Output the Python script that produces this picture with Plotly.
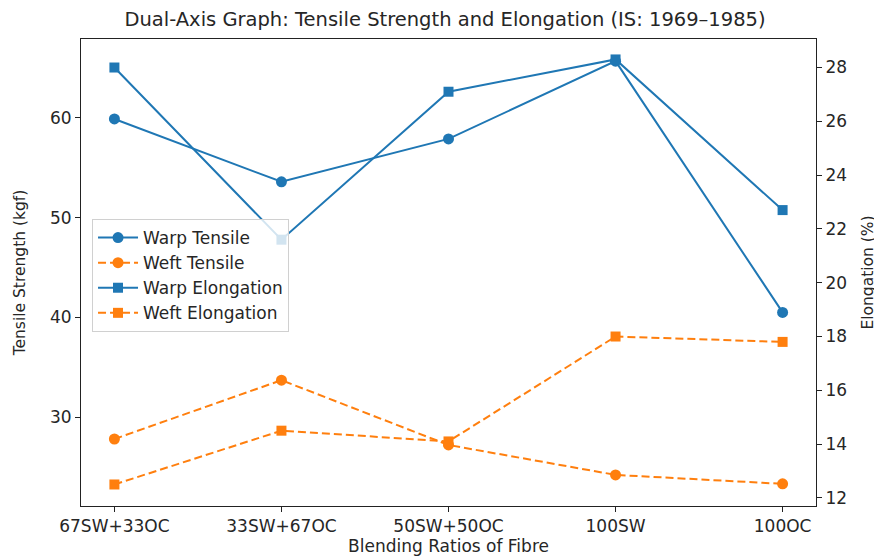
import plotly.graph_objects as go

categories = ["67SW+33OC", "33SW+67OC", "50SW+50OC", "100SW", "100OC"]
warp_tensile = [59.9, 53.6, 57.9, 65.7, 40.5]
weft_tensile = [27.8, 33.7, 27.2, 24.2, 23.3]
warp_elong = [28.0, 21.6, 27.1, 28.3, 22.7]
weft_elong = [12.5, 14.5, 14.1, 18.0, 17.8]

left_ticks = [30, 40, 50, 60]
right_ticks = [12, 14, 16, 18, 20, 22, 24, 26, 28]

BLUE = "#1f77b4"
ORANGE = "#ff7f0e"
FONT = "DejaVu Sans"
TXT = "#262626"

fig = go.Figure()
fig.add_trace(go.Scatter(x=categories, y=warp_tensile, name="Warp Tensile", mode="lines+markers",
                         line=dict(color=BLUE, width=2), marker=dict(symbol="circle", size=11, color=BLUE)))
fig.add_trace(go.Scatter(x=categories, y=weft_tensile, name="Weft Tensile", mode="lines+markers",
                         line=dict(color=ORANGE, width=2, dash="8px,4px"), marker=dict(symbol="circle", size=11, color=ORANGE)))
fig.add_trace(go.Scatter(x=categories, y=warp_elong, name="Warp Elongation", mode="lines+markers", yaxis="y2",
                         line=dict(color=BLUE, width=2), marker=dict(symbol="square", size=10, color=BLUE)))
fig.add_trace(go.Scatter(x=categories, y=weft_elong, name="Weft Elongation", mode="lines+markers", yaxis="y2",
                         line=dict(color=ORANGE, width=2, dash="8px,4px"), marker=dict(symbol="square", size=10, color=ORANGE)))

axis_common = dict(showgrid=False, zeroline=False, showline=True, linecolor="#222", linewidth=1,
                   ticks="outside", ticklen=5, tickcolor="#222", automargin=False,
                   tickfont=dict(family=FONT, size=17, color=TXT))

fig.update_layout(
    width=874, height=551,
    paper_bgcolor="white", plot_bgcolor="white",
    margin=dict(l=73, r=66, t=31, b=53),
    font=dict(family=FONT, color=TXT),
    title=dict(text="Dual-Axis Graph: Tensile Strength and Elongation (IS: 1969–1985)",
               x=0.5, xanchor="center", y=0.98, yanchor="middle",
               font=dict(family=FONT, size=19.5, color=TXT)),
    xaxis=dict(**axis_common, mirror=True, range=[-0.2, 4.2],
               title=dict(text="Blending Ratios of Fibre", font=dict(family=FONT, size=17, color=TXT), standoff=2)),
    yaxis=dict(**axis_common, range=[21.08, 67.92], tickvals=left_ticks,
               title=dict(text="Tensile Strength (kgf)", font=dict(family=FONT, size=15.5, color=TXT), standoff=20)),
    yaxis2=dict(**axis_common, overlaying="y", side="right", range=[11.70, 29.06], tickvals=right_ticks,
                title=dict(text="Elongation (%)", font=dict(family=FONT, size=15.5, color=TXT), standoff=16)),
    legend=dict(x=0.015, y=0.6146, xanchor="left", yanchor="top",
                bgcolor="rgba(255,255,255,0.8)", bordercolor="#d0d0d0", borderwidth=1,
                font=dict(family=FONT, size=17, color=TXT), itemwidth=40, tracegroupgap=0),
    showlegend=True,
)

fig.write_html("out.html")
